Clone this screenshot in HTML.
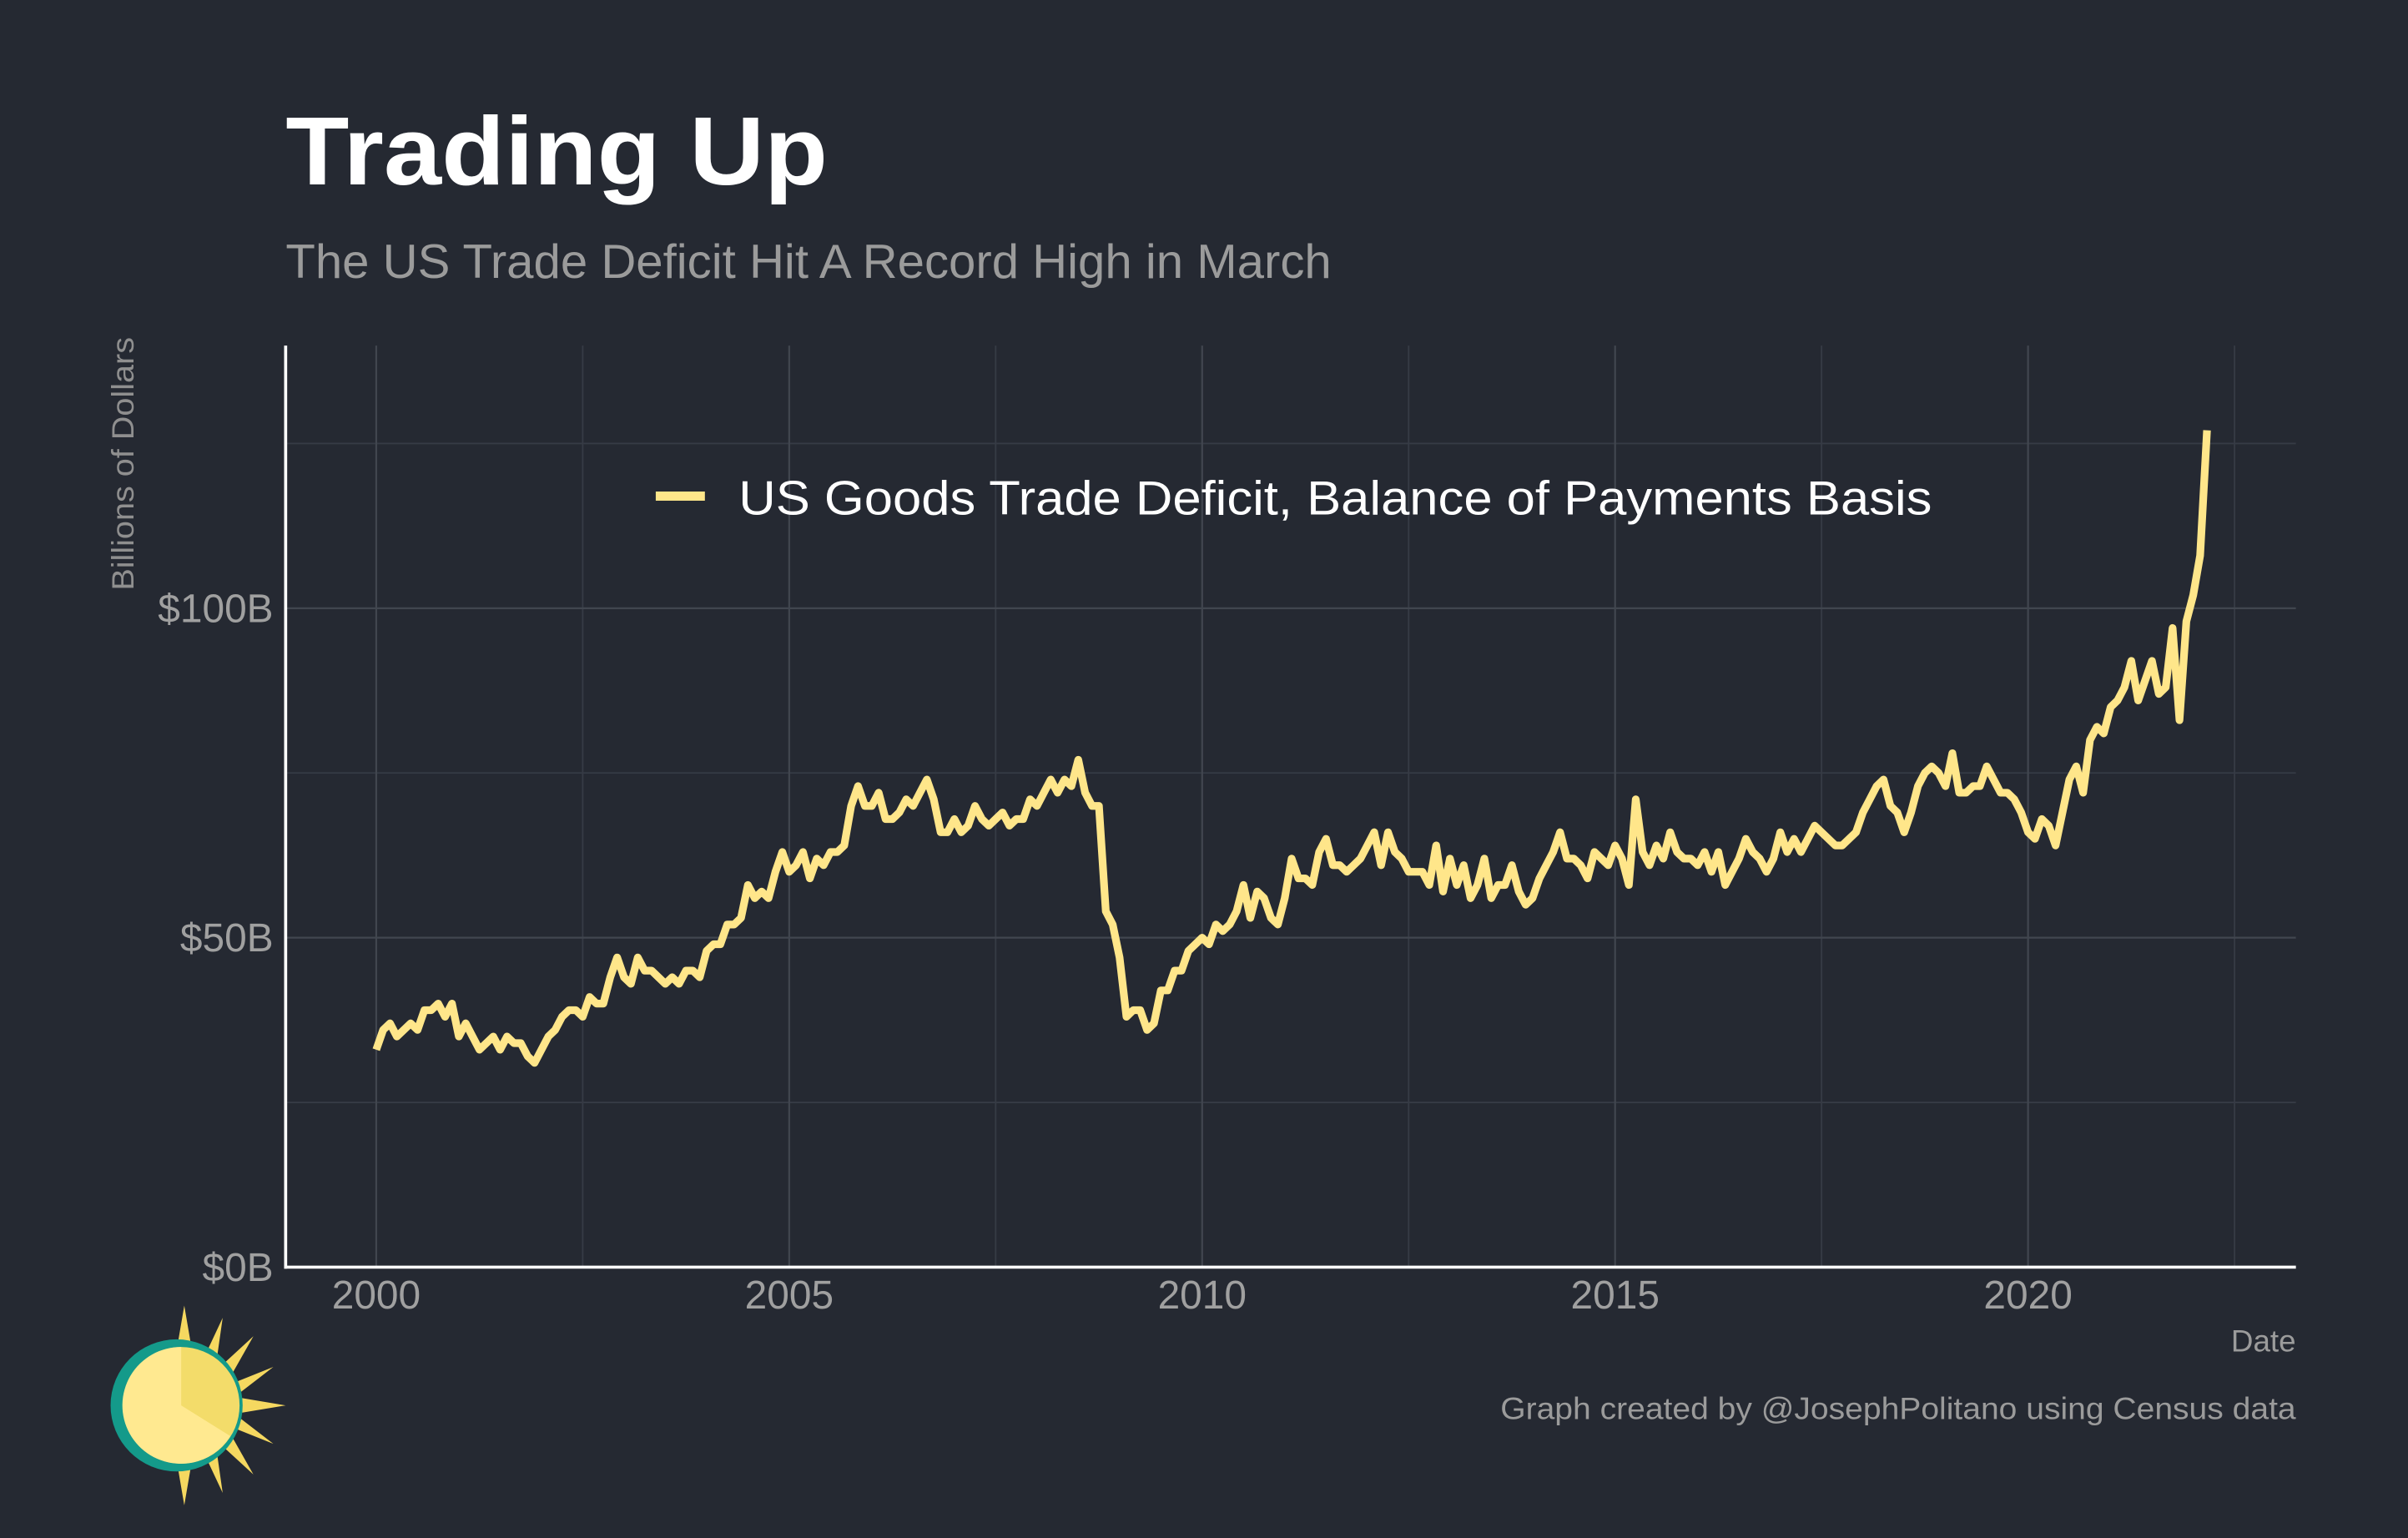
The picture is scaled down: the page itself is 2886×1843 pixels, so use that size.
<!DOCTYPE html>
<html><head><meta charset="utf-8"><style>
html,body{margin:0;padding:0;background:#252932;}
svg{display:block;font-family:"Liberation Sans",Arial,sans-serif;}
</style></head><body>
<svg id="chart" width="2886" height="1843" viewBox="0 0 1568 1001.35" preserveAspectRatio="none" xmlns="http://www.w3.org/2000/svg">
<rect width="1568" height="1002" fill="#252932"/>
<text x="186" y="120" font-size="63" font-weight="bold" fill="#ffffff" textLength="353" lengthAdjust="spacingAndGlyphs">Trading Up</text>
<text x="186" y="181" font-size="31" fill="#9b9b9b" textLength="681" lengthAdjust="spacingAndGlyphs">The US Trade Deficit Hit A Record High in March</text>
<g id="grid"></g>
<g id="axes"></g>
<g id="series"></g>
<text transform="translate(87,302) rotate(-90)" text-anchor="middle" font-size="20" fill="#8f8f8f" textLength="165" lengthAdjust="spacingAndGlyphs">Billions of Dollars</text>
<text x="1495" y="880" text-anchor="end" font-size="20" fill="#9b9b9b">Date</text>
<text x="1495" y="924" text-anchor="end" font-size="20" fill="#9b9b9b" textLength="518" lengthAdjust="spacingAndGlyphs">Graph created by @JosephPolitano using Census data</text>
<g id="legend">
<line x1="427" y1="323" x2="459" y2="323" stroke="#ffe68a" stroke-width="6"/>
<text x="481" y="335" font-size="31" fill="#ffffff" textLength="777" lengthAdjust="spacingAndGlyphs">US Goods Trade Deficit, Balance of Payments Basis</text>
</g>
<g>
<g fill="#f5d860">
<polygon points="120,850 126,885 114,885"/><polygon points="120,980 126,945 114,945"/>
<polygon points="186,915 150,909 150,921"/>
<polygon points="165,870 140,893 148,900"/><polygon points="165,960 140,937 148,930"/>
<polygon points="145,858 130,890 140,893"/><polygon points="145,972 130,940 140,937"/>
<polygon points="178,890 148,902 152,910"/><polygon points="178,940 148,928 152,920"/>
</g>
<circle cx="115" cy="915" r="43" fill="#149a8a"/>
<circle cx="118" cy="915" r="38" fill="#f3dc6a"/>
<path d="M118,877 A38,38 0 1,0 150,935 L118,915 Z" fill="#ffe990"/>
</g>
<script>
var yTicks=[0,50,100];
var yTickLabels=["$0B","$50B","$100B"];
var yMinor=[25,75,125];
var xTicks=[2000,2005,2010,2015,2020];
var xMinor=[2002.5,2007.5,2012.5,2017.5,2022.5];
var startYear=2000;
var v2000=[33,36,37,35,36,37,36,39,39,40,38,40];
var v2001=[35,37,35,33,34,35,33,35,34,34,32,31];
var v2002=[33,35,36,38,39,39,38,41,40,40,44,47];
var v2003=[44,43,47,45,45,44,43,44,43,45,45,44];
var v2004=[48,49,49,52,52,53,58,56,57,56,60,63];
var v2005=[60,61,63,59,62,61,63,63,64,70,73,70];
var v2006=[70,72,68,68,69,71,70,72,74,71,66,66];
var v2007=[68,66,67,70,68,67,68,69,67,68,68,71];
var v2008=[70,72,74,72,74,73,77,72,70,70,54,52];
var v2009=[47,38,39,39,36,37,42,42,45,45,48,49];
var v2010=[50,49,52,51,52,54,58,53,57,56,53,52];
var v2011=[56,62,59,59,58,63,65,61,61,60,61,62];
var v2012=[64,66,61,66,63,62,60,60,60,58,64,57];
var v2013=[62,58,61,56,58,62,56,58,58,61,57,55];
var v2014=[56,59,61,63,66,62,62,61,59,63,62,61];
var v2015=[64,62,58,71,63,61,64,62,66,63,62,62];
var v2016=[61,63,60,63,58,60,62,65,63,62,60,62];
var v2017=[66,63,65,63,65,67,66,65,64,64,65,66];
var v2018=[69,71,73,74,70,69,66,69,73,75,76,75];
var v2019=[73,78,72,72,73,73,76,74,72,72,71,69];
var v2020=[66,65,68,67,64,69,74,76,72,80,82,81];
var v2021=[85,86,88,92,86,89,92,87,88,97,83,98];
var v2022=[102,108,127];
var values=[].concat(v2000,v2001,v2002,v2003,v2004,v2005,v2006,v2007,v2008,v2009,v2010,v2011,v2012,v2013,v2014,v2015,v2016,v2017,v2018,v2019,v2020,v2021,v2022);

var NS="http://www.w3.org/2000/svg";
var L=186,R=1495,T=225,B=825;
function xs(yr){return 245+(yr-2000)*53.78;}
function ys(v){return 825-v*4.29;}
function mk(tag,attrs,parent){var e=document.createElementNS(NS,tag);for(var k in attrs)e.setAttribute(k,attrs[k]);parent.appendChild(e);return e;}
var grid=document.getElementById('grid'),axes=document.getElementById('axes'),series=document.getElementById('series');
yMinor.forEach(function(v){var l=mk('line',{x1:L,x2:R,y1:ys(v),y2:ys(v),stroke:'#363b45','stroke-width':1},grid);

});
xMinor.forEach(function(v){var l=mk('line',{x1:xs(v),x2:xs(v),y1:T,y2:B,stroke:'#363b45','stroke-width':1},grid);

});
yTicks.forEach(function(v,i){var l=mk('line',{x1:L,x2:R,y1:ys(v),y2:ys(v),stroke:'#41464f','stroke-width':1.2},grid);


var t=mk('text',{x:178,y:ys(v)+9,'text-anchor':'end','font-size':26,fill:'#a0a0a0'},axes);t.textContent=yTickLabels[i];

});
xTicks.forEach(function(v){var l=mk('line',{x1:xs(v),x2:xs(v),y1:T,y2:B,stroke:'#41464f','stroke-width':1.2},grid);


var t=mk('text',{x:xs(v),y:852,'text-anchor':'middle','font-size':26,fill:'#a0a0a0'},axes);t.textContent=v;

});
var ya=mk('line',{x1:L,x2:L,y1:T,y2:B+1,stroke:'#ffffff','stroke-width':2},axes);


var xa=mk('line',{x1:L-1,x2:R,y1:B,y2:B,stroke:'#ffffff','stroke-width':2},axes);


var d=values.map(function(v,i){return (i?'L':'M')+xs(startYear+i/12).toFixed(2)+','+ys(v).toFixed(2);}).join(' ');
var p=mk('path',{d:d,fill:'none',stroke:'#ffe68a','stroke-width':5,'stroke-linejoin':'round'},series);


</script>
</svg>
</body></html>
